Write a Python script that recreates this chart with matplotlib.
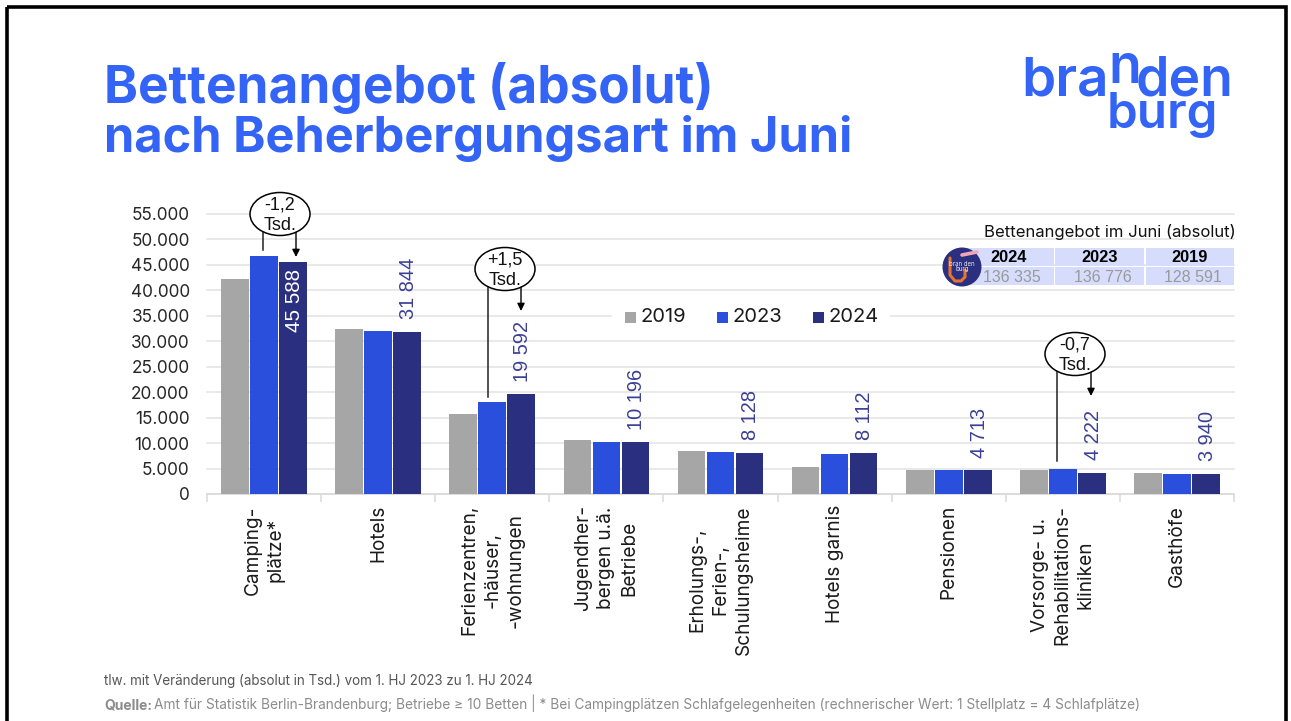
import matplotlib
matplotlib.use("Agg")
import matplotlib.pyplot as plt
from matplotlib.patches import Ellipse, Circle, Rectangle
import numpy as np

W, H = 1291, 721
categories = ["Camping-\nplätze*", "Hotels", "Ferienzentren,\n-häuser,\n-wohnungen",
              "Jugendher-\nbergen u.ä.\nBetriebe", "Erholungs-,\nFerien-,\nSchulungsheime",
              "Hotels garnis", "Pensionen", "Vorsorge- u.\nRehabilitations-\nkliniken", "Gasthöfe"]
v2019 = [42300, 32400, 15800, 10600, 8400, 5400, 4700, 4700, 4200]
v2023 = [46800, 32100, 18100, 10200, 8200, 7900, 4700, 4900, 3900]
v2024 = [45588, 31844, 19592, 10196, 8128, 8112, 4713, 4222, 3940]
labels2024 = ["45 588", "31 844", "19 592", "10 196", "8 128", "8 112", "4 713", "4 222", "3 940"]
yticks = list(range(0, 55001, 5000))
ytick_labels = ["0", "5.000", "10.000", "15.000", "20.000", "25.000", "30.000", "35.000", "40.000", "45.000", "50.000", "55.000"]
table_years = ["2024", "2023", "2019"]
table_vals = ["136 335", "136 776", "128 591"]

GRAY, BLUE, NAVY, TITLE = "#a6a6a6", "#2a4fdc", "#2b2f80", "#3364f5"
LABEL = "#3c4096"
plt.rcParams["font.family"] = ["Inter", "DejaVu Sans"]

fig = plt.figure(figsize=(W/100, H/100), dpi=100)
bg = fig.add_axes([0, 0, 1, 1]); bg.set_xlim(0, W); bg.set_ylim(H, 0); bg.axis("off")
bg.add_patch(Rectangle((6.5, 6.5), W-12, H+20, fill=False, ec="black", lw=2.6))

ax = fig.add_axes([207/W, 1-494/H, 1027/W, 280/H], zorder=2)
ax.patch.set_alpha(0)
x = np.arange(len(categories))
bw = 0.242; off = 0.254
ax.bar(x-off, v2019, bw, color=GRAY, label="2019", zorder=3)
ax.bar(x, v2023, bw, color=BLUE, label="2023", zorder=3)
ax.bar(x+off, v2024, bw, color=NAVY, label="2024", zorder=3)
ax.set_xlim(-0.5, len(categories)-0.5); ax.set_ylim(0, 55000)
ax.set_yticks(yticks, ytick_labels, fontsize=12.4, color="#262626")
ax.tick_params(axis="y", length=0, pad=12.5)
ax.grid(axis="y", color="#e3e3e3", lw=1.1, zorder=0)
for g in ax.get_ygridlines():
    g.set_clip_on(False)
ax.set_axisbelow(True)
for s in ["top", "right", "left"]:
    ax.spines[s].set_visible(False)
ax.spines["bottom"].set_color("#d9d9d9"); ax.spines["bottom"].set_linewidth(1.1)
ax.set_xticks(np.arange(len(categories)+1)-0.5, [""]*(len(categories)+1))
ax.tick_params(axis="x", length=6, color="#d9d9d9", width=1.1)
for i, c in enumerate(categories):
    ax.annotate(c, (i, 0), xytext=(0, -8), textcoords="offset points", rotation=90, ha="center", va="top",
                fontsize=13.7, color="#1a1a1a", linespacing=1.36, multialignment="center")
for i, (v, l) in enumerate(zip(v2024, labels2024)):
    if i == 0:
        ax.annotate(l, (i+off, v), xytext=(1, -5), textcoords="offset points", rotation=90, ha="center", va="top",
                    fontsize=14.8, color="white", fontfamily="Liberation Sans")
    else:
        ax.annotate(l, (i+off, v), xytext=(1, 9), textcoords="offset points", rotation=90, ha="center", va="bottom",
                    fontsize=14.4, color=LABEL, fontfamily="Liberation Sans")

ov = fig.add_axes([0, 0, 1, 1], zorder=5); ov.set_xlim(0, W); ov.set_ylim(H, 0); ov.axis("off")

# legend
ov.add_patch(Rectangle((612, 300), 278, 30, color="white", lw=0, zorder=1))
for px_, lab, col in [(625, "2019", GRAY), (717, "2023", BLUE), (813, "2024", NAVY)]:
    ov.add_patch(Rectangle((px_, 312), 11, 11, color=col, lw=0, zorder=2))
    ov.text(px_+16, 317, lab, fontsize=14.5, color="#1a1a1a", va="center", zorder=3)

def callout(cx, cy, txt, lx, ly0, ly1, ax_, ay0, ay1):
    ov.plot([lx, lx], [ly0, ly1], color="#222222", lw=1.1)
    ov.annotate("", xy=(ax_, ay1), xytext=(ax_, ay0),
                arrowprops=dict(arrowstyle="-|>", color="black", lw=1, mutation_scale=11, shrinkA=0, shrinkB=0))
    ov.add_patch(Ellipse((cx, cy), 60, 43, fc="white", ec="black", lw=1.1, zorder=4))
    ov.text(cx, cy + 1.5, txt, ha="center", va="center", fontsize=13, color="#111111", zorder=5, linespacing=1.3,
            fontfamily="Liberation Sans")
callout(280, 214, "-1,2\nTsd.", 263, 230, 250, 296, 232, 257)
callout(505, 269, "+1,5\nTsd.", 488, 287, 397, 521, 286, 311)
callout(1075, 354, "-0,7\nTsd.", 1057, 370, 461, 1091, 370, 396)

# table
ov.text(1236, 232, "Bettenangebot im Juni (absolut)", ha="right", va="center", fontsize=12, color="#111111", zorder=6)
cols = [(958, 1054), (1055, 1144), (1146, 1234)]
for (a, b), yr, vl in zip(cols, table_years, table_vals):
    ov.add_patch(Rectangle((a, 248), b-a, 18, color="#d6dcfb", lw=0))
    ov.add_patch(Rectangle((a, 267), b-a, 18, color="#d6dcfb", lw=0))
    c = (a+b)/2 + (3 if a == 958 else 0)
    ov.text(c, 257, yr, ha="center", va="center", fontsize=11.8, fontweight="bold", color="black", fontfamily="Liberation Sans")
    ov.text(c + 3, 277, vl, ha="center", va="center", fontsize=11.5, color="#9a9a9a", fontfamily="Liberation Sans")
ov.add_patch(Circle((962, 267), 19.5, fc="#2b2f80", ec="none", zorder=6))
ov.plot([950, 950, 955, 961, 965, 965], [258, 275, 281, 281, 277, 270], color="#e8742c", lw=2.2, zorder=7, solid_capstyle="round")
ov.plot([962, 977], [255, 252], color="#f0a6b8", lw=2.6, zorder=7, solid_capstyle="round")
ov.text(962, 267, "bran den\nburg", ha="center", va="center", fontsize=4.4, color="#e6e6e6", zorder=8, linespacing=0.8)

# title
ov.text(104, 88, "Bettenangebot (absolut)", fontsize=37.0, fontweight="bold", color=TITLE, va="center")
ov.text(104, 139, "nach Beherbergungsart im Juni", fontsize=35.2, fontweight="bold", color=TITLE, va="center")

# wordmark
for t, px_, py_, fs in [("bra", 1021, 95, 39.5), ("n", 1108, 83, 38.5), ("den", 1136, 95, 38.5), ("burg", 1107, 128, 35.5)]:
    ov.text(px_, py_, t, fontsize=fs, color=TITLE, va="baseline", fontweight="semibold")

# footnotes
ov.text(104, 685, "tlw. mit Veränderung (absolut in Tsd.) vom 1. HJ 2023 zu 1. HJ 2024", fontsize=9.65, color="#555555", va="baseline")
ov.text(104, 709, "Quelle:", fontsize=10, color="#8c8c8c", fontweight="bold", va="baseline")
ov.text(154, 709, "Amt für Statistik Berlin-Brandenburg; Betriebe ≥ 10 Betten | * Bei Campingplätzen Schlafgelegenheiten (rechnerischer Wert: 1 Stellplatz = 4 Schlafplätze)",
        fontsize=9.88, color="#8c8c8c", va="baseline")

fig.savefig("out.png", dpi=100)
